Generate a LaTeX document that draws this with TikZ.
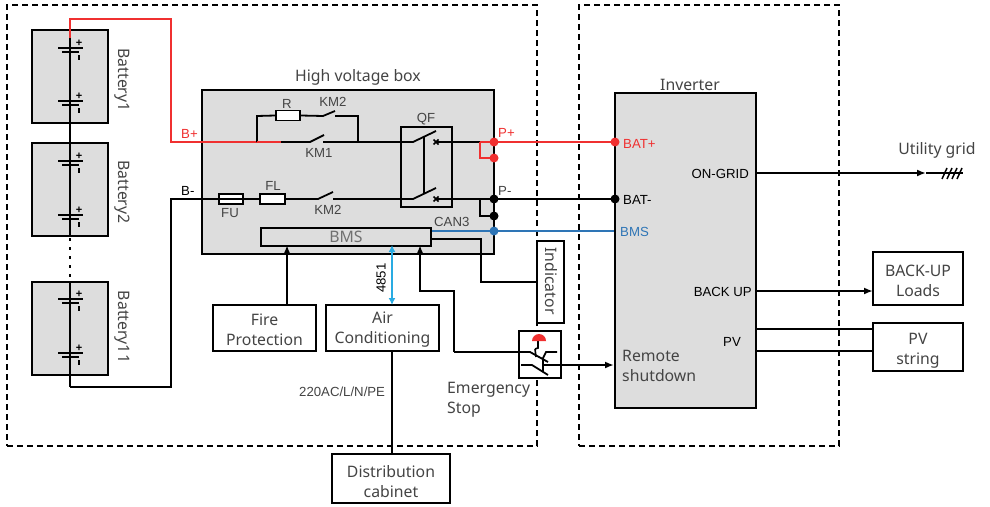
\documentclass[tikz,border=0pt]{standalone}
\usepackage{fontspec}
\setmainfont{Noto Sans}
\newfontfamily\arialf{Liberation Sans}
\usetikzlibrary{arrows.meta,calc}
\definecolor{txt}{HTML}{444444}
\definecolor{gfill}{HTML}{DDDDDD}
\definecolor{myred}{HTML}{F03030}
\definecolor{myblue}{HTML}{2E75B6}
\definecolor{sky}{HTML}{29ABE2}
\definecolor{bmsgray}{HTML}{707070}
\newcommand\pushdn[1]{\rule{0pt}{#1pt}}
\tikzset{
 box/.style={draw=black,line width=1.8pt,inner sep=0pt,align=center,text=txt,font=\fontsize{15.8}{20}\selectfont},
 graybox/.style={box,fill=gfill},
 whitebox/.style={box,fill=white},
 frame/.style={draw=black,line width=1.8pt,dash pattern=on 6pt off 4pt},
 wire/.style={draw=black,line width=1.8pt},
 thin wire/.style={draw=black,line width=1.2pt},
 redw/.style={draw=myred,line width=1.9pt},
 bluew/.style={draw=myblue,line width=1.8pt},
 small/.style={inner sep=0pt,font=\arialf\fontsize{13.2}{15}\selectfont,text=black},
 lab/.style={inner sep=0pt,align=left,text=txt,font=\fontsize{15.8}{20}\selectfont},
 dot/.style={circle,fill=#1,inner sep=0pt,minimum size=9pt,draw=none},
 tip/.style={-{Latex[length=9pt,width=7pt]}},
 celllong/.style={draw=black,line width=2pt},
}
\begin{document}
\begin{tikzpicture}[x=1pt,y=-1pt]
\useasboundingbox (0,0) rectangle (990,506);
\fill[white] (0,0) rectangle (990,506);

% outer frames
\node[frame,minimum width=530pt,minimum height=441pt,inner sep=0pt] (bat area) at (272,225.5) {};
\node[frame,minimum width=260pt,minimum height=441pt,inner sep=0pt] (inv area) at (709,225.5) {};

% batteries
\node[graybox,minimum width=76pt,minimum height=93pt] (b1) at (70,76.5) {};
\node[graybox,minimum width=76pt,minimum height=93pt] (b2) at (70,189.5) {};
\node[graybox,minimum width=76pt,minimum height=93pt] (b11) at (70,328.5) {};
\node[lab,rotate=-90] (b1t) at (122,80) {Battery1};
\node[lab,rotate=-90] (b2t) at (122,192) {Battery2};
\node[lab,rotate=-90] (b11t) at (122,327) {Battery11};

\coordinate (btop) at (70,38);
\coordinate (rc1) at (70,19);
\coordinate (rc2) at (171,19);
\coordinate (rc3) at (171,142);
\coordinate (rend) at (281,142);
\coordinate (bbot) at (70,387);
\coordinate (nc2) at (171,387);
\coordinate (nc3) at (171,199);

\draw[thin wire] (btop) -- (70,123);
\draw[wire] (70,123) -- (70,143);
\draw[thin wire] (70,143) -- (70,236);
\draw[line width=1.8pt,dash pattern=on 3pt off 6pt] (70,238) -- (70,282);
\draw[thin wire] (70,282) -- (70,375);

% cells
\foreach \y in {48,101,161,215,299,353}{
 \draw[celllong] (58,\y) -- (83,\y);
 \draw[celllong] (62,\y+4) -- (79,\y+4);
 \node[inner sep=0pt,font=\arialf\bfseries\fontsize{11}{11}\selectfont] at (79,\y-5) {+};
 \draw[line width=1.2pt] (79,\y+7) -- (79,\y+12);
}

% high voltage box
\node[graybox,minimum width=292pt,minimum height=164pt] (hv) at (348,172) {};
\node[lab,anchor=center] (hvt) at (358,77) {High voltage box};

% inverter
\node[graybox,minimum width=141pt,minimum height=315pt] (inv) at (685.5,250.5) {};
\node[lab] (invt) at (690,85) {Inverter};

% top branch
\draw[redw] (btop) -- (rc1) -- (rc2) -- (rc3) -- (rend);
\coordinate (km1a) at (310,142); \coordinate (km1b) at (323,142); \coordinate (km1c) at (324,135);
\coordinate (j1) at (358,142);
\coordinate (j0) at (257,142);
\coordinate (rup) at (257,116);
\coordinate (rdn) at (358,116);
\node[whitebox,minimum width=24pt,minimum height=10pt] (R) at (288,115.5) {};
\draw[wire] (rend) -- (km1a) -- (km1c);
\draw[wire] (km1b) -- (j1);
\draw[wire] (j0) -- (rup) -- (R.west);
\coordinate (km2a) at (323,116); \coordinate (km2b) at (335,116); \coordinate (km2c) at (335,111);
\draw[wire] (R.east) -- (km2a) -- (km2c);
\draw[wire] (km2b) -- (rdn) -- (j1);
\draw[wire] (j1) -- (370,142);
\draw[redw] (j0) -- (rend);

% bottom branch
\node[whitebox,minimum width=24pt,minimum height=10pt] (FU) at (231,199) {};
\node[whitebox,minimum width=25pt,minimum height=10pt] (FL) at (272.5,199) {};
\draw[line width=1.2pt] (FU.west) -- (FU.east);
\draw[wire] (bbot) -- (nc2) -- (nc3) -- (FU.west);
\draw[thin wire] (70,375) -- (bbot);
\draw[wire] (FU.east) -- (FL.west);
\coordinate (km3a) at (318,199); \coordinate (km3b) at (333,199); \coordinate (km3c) at (333,192);
\draw[wire] (FL.east) -- (km3a) -- (km3c);
\draw[wire] (km3b) -- (401,199);

% QF
\node[draw=black,line width=2.2pt,fill=gfill,minimum width=51pt,minimum height=80pt,inner sep=0pt] (QF) at (426.5,167) {};
\coordinate (q1) at (413,142); \coordinate (q2) at (436,131);
\coordinate (q3) at (413,199); \coordinate (q4) at (436,188);
\coordinate (x1) at (436,142); \coordinate (x2) at (436,199);
\draw[wire] (370,142) -- (q1) -- (q2);
\draw[wire] (370,199) -- (q3) -- (q4);
\draw[wire] (424,136) -- (424,194);
\draw[wire] (x1) -- (480,142);
\draw[wire] (x2) -- (494,199);
\foreach \c in {x1,x2}{
 \draw[line width=1.5pt] ($(\c)+(-2.5,-2.5)$) -- ($(\c)+(2.5,2.5)$);
 \draw[line width=1.5pt] ($(\c)+(-2.5,2.5)$) -- ($(\c)+(2.5,-2.5)$);
}

% BMS
\node[graybox,minimum width=170pt,minimum height=18pt,text=bmsgray] (BMS) at (346,237) {BMS};

% terminal dots
\node[dot=myred] (pp) at (494,142) {};
\node[dot=myred] (pp2) at (494,158) {};
\node[dot=black] (pn) at (494,199) {};
\node[dot=black] (pn2) at (494,216) {};
\node[dot=myblue] (can) at (494,231) {};
\node[dot=myred] (bp) at (615,142) {};
\node[dot=black] (bn) at (615,199) {};

\draw[redw] (480,142) -- (480,158) -- (pp2.center);
\draw[redw] (480,142) -- (pp.center);
\draw[wire] (480,199) -- (480,216) -- (pn2.center);
\draw[redw] (pp.center) -- (bp.center);
\draw[wire] (pn.center) -- (bn.center);
\draw[bluew] (BMS.east |- can) -- (can.center) -- (inv.west |- can);

% bottom blocks
\node[whitebox,minimum width=103pt,minimum height=46pt] (fire) at (264.5,328) {\pushdn{15}Fire\\Protection};
\node[whitebox,minimum width=113pt,minimum height=46pt] (air) at (382.5,328) {\pushdn{15}Air\\Conditioning};
\node[whitebox,minimum width=118pt,minimum height=49pt] (dist) at (391,478.5) {\pushdn{18}Distribution\\cabinet};
\draw[wire,tip] (287,305) -- (287,245);
\draw[line width=1.9pt,sky,{Latex[length=7pt,width=7pt]}-{Latex[length=7pt,width=7pt]}] (392,245) -- (392,305);
\node[small,rotate=90] (t4851) at (381,278) {4851};
\draw[wire] (392,351) -- (392,454);
\node[small,anchor=west,text=txt] (acl) at (299,392) {220AC/L/N/PE};

% indicator
\node[whitebox,minimum width=27pt,minimum height=82pt] (ind) at (550.5,282) {};
\node[lab,rotate=-90] (indt) at (551,281) {Indicator};
\coordinate (i1) at (481,239); \coordinate (i2) at (481,282);
\draw[wire] (431,239) -- (i1) -- (i2) -- (ind.west |- i2);

% emergency stop
\node[whitebox,minimum width=42pt,minimum height=47pt] (es) at (540,354.5) {};
\coordinate (e1) at (420,291); \coordinate (e2) at (454,291); \coordinate (e3) at (454,352);
\coordinate (e4) at (530,352); \coordinate (e5) at (548,362);
\coordinate (f1) at (521,365); \coordinate (f2) at (532,365); \coordinate (f3) at (548,375);
\coordinate (g1) at (557,352); \coordinate (g2) at (546,352); \coordinate (g3) at (543,358);
\draw[wire,tip] (e3) -- (e2) -- (e1) -- (420,245);
\draw[wire] (e3) -- (e4) -- (e5);
\draw[wire] (f1) -- (f2) -- (f3);
\draw[wire] (g1) -- (g2) -- (g3) -- (543,372);
\draw[wire,tip] (543,365) -- (614,365);
\draw[line width=1.6pt] (538,341) -- (538,348) -- (535,349);
\draw[line width=1.6pt] (535,349) -- (536,357);
\fill[myred] (532,341) arc[start angle=180,end angle=0,radius=7pt] -- cycle;
\node[lab,anchor=west] (emt) at (447,400) {Emergency\\Stop};
\node[lab,anchor=west] (remt) at (622,366) {Remote\\shutdown};

% inverter labels
\node[small,text=myred,anchor=west] (tbp) at (623,144) {BAT+};
\node[small,anchor=west] (tbn) at (623,200) {BAT-};
\node[small,text=myblue,anchor=west] (tbms) at (620,231.5) {BMS};
\node[small,anchor=east] (tog) at (749,174) {ON-GRID};
\node[small,anchor=east] (tbu) at (752,292) {BACK UP};
\node[small,anchor=east] (tpv) at (741,342) {PV};

% hv labels
\node[small,text=myred,anchor=west] (tbplus) at (181,133.5) {B+};
\node[small,anchor=west] (tbminus) at (181,190.5) {B-};
\node[small,text=txt] (tR) at (287,104) {R};
\node[small,text=txt] (tk2) at (333,101.5) {KM2};
\node[small,text=txt] (tk1) at (319,152.5) {KM1};
\node[small,text=txt] (tfu) at (230,213) {FU};
\node[small,text=txt] (tfl) at (273,186) {FL};
\node[small,text=txt] (tk3) at (328,210) {KM2};
\node[small,text=txt] (tqf) at (426,119) {QF};
\node[small,text=myred,anchor=west] (tpp) at (498,132.5) {P+};
\node[small,text=txt,anchor=west] (tpn) at (498,191) {P-};
\node[small,text=txt,anchor=west] (tcan) at (434,222) {CAN3};

% right side
\node[whitebox,minimum width=90pt,minimum height=53pt] (loads) at (918,278.5) {\pushdn{17}BACK-UP\\Loads};
\node[whitebox,minimum width=90pt,minimum height=48pt] (pvs) at (918,347) {\pushdn{19}PV\\string};
\node[lab] (ut) at (937,150) {Utility grid};
\coordinate (gt) at (926,173);
\coordinate (gend) at (963,173);
\draw[wire,tip] (inv.east |- gt) -- (gt);
\draw[wire] (gt) -- (gend);
\foreach \x in {942,947,952,957}{
 \draw[line width=1.5pt] (\x,179) -- (\x+5,168);
}
\draw[wire,tip] (inv.east |- loads) ++(0,12.5) -- (873,291);
\draw[wire] (756,329) -- (pvs.west |- 756,329);
\draw[wire] (756,351) -- (pvs.west |- 756,351);
\end{tikzpicture}
\end{document}
